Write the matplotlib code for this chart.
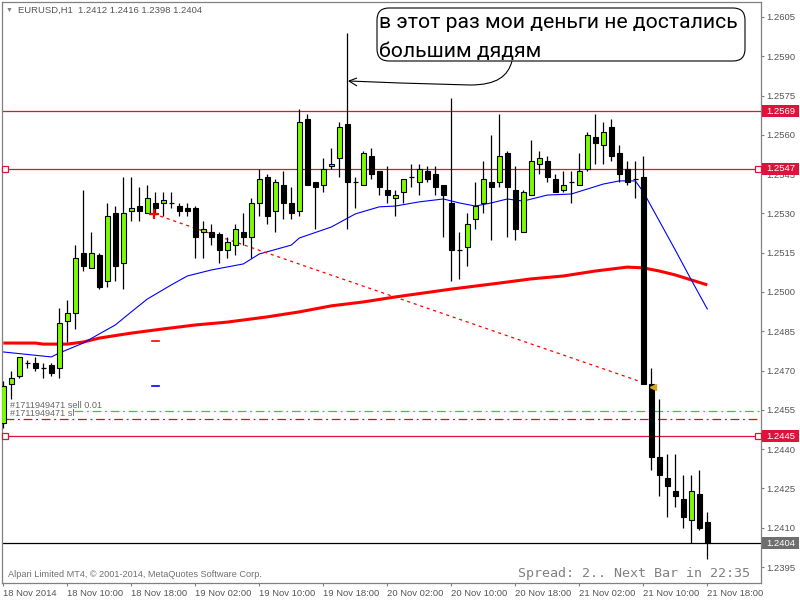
import matplotlib
matplotlib.use("Agg")
import matplotlib.pyplot as plt
from matplotlib.patches import Rectangle, FancyBboxPatch, PathPatch
from matplotlib.path import Path
from matplotlib.transforms import Affine2D, blended_transform_factory
import numpy as np

plt.rcParams['font.family'] = ['Liberation Sans', 'DejaVu Sans']

# EURUSD H1, one candle per hour from 18 Nov 02:00 to 21 Nov 18:00
opens = [1.2450, 1.2465, 1.2468, 1.2473, 1.2473, 1.2471, 1.2472, 1.2471, 1.2489, 1.2492,
         1.2515, 1.2509, 1.2514, 1.2504, 1.2530, 1.2511, 1.2531, 1.2533, 1.2530, 1.2534,
         1.2534, 1.2534, 1.2533, 1.2532, 1.2532, 1.2523, 1.2523, 1.2522, 1.2516, 1.2518,
         1.2523, 1.2521, 1.2534, 1.2544, 1.2531, 1.2541, 1.2534, 1.2531, 1.2566, 1.2542,
         1.2541, 1.2548, 1.2551, 1.2564, 1.2542, 1.2541, 1.2552, 1.2546, 1.2539, 1.2536,
         1.2538, 1.2544, 1.2542, 1.2546, 1.2545, 1.2541, 1.2534, 1.2516, 1.2517, 1.2528,
         1.2534, 1.2542, 1.2542, 1.2553, 1.2539, 1.2523, 1.2537, 1.2549, 1.2550, 1.2543,
         1.2539, 1.2542, 1.2541, 1.2547, 1.2559, 1.2556, 1.2563, 1.2553, 1.2547, 1.2543,
         1.2544, 1.2465, 1.2437, 1.2429, 1.2424, 1.2421, 1.2413, 1.2423, 1.2412]
highs = [1.2466, 1.2470, 1.2475, 1.2474, 1.2475, 1.2473, 1.2473, 1.2494, 1.2497, 1.2518,
         1.2539, 1.2523, 1.2515, 1.2534, 1.2533, 1.2544, 1.2544, 1.2540, 1.2541, 1.2538,
         1.2538, 1.2538, 1.2534, 1.2534, 1.2533, 1.2527, 1.2526, 1.2523, 1.2521, 1.2526,
         1.2530, 1.2536, 1.2547, 1.2545, 1.2543, 1.2546, 1.2540, 1.2570, 1.2568, 1.2542,
         1.2551, 1.2555, 1.2565, 1.2599, 1.2544, 1.2554, 1.2555, 1.2546, 1.2548, 1.2539,
         1.2543, 1.2549, 1.2549, 1.2548, 1.2548, 1.2541, 1.2574, 1.2523, 1.2530, 1.2542,
         1.2550, 1.2560, 1.2568, 1.2554, 1.2548, 1.2539, 1.2558, 1.2554, 1.2552, 1.2545,
         1.2546, 1.2546, 1.2553, 1.2561, 1.2568, 1.2565, 1.2566, 1.2556, 1.2550, 1.2550,
         1.2552, 1.2471, 1.2459, 1.2438, 1.2438, 1.2430, 1.2430, 1.2432, 1.2416]
lows = [1.2448, 1.2459, 1.2467, 1.2471, 1.2470, 1.2467, 1.2468, 1.2467, 1.2481, 1.2486,
        1.2508, 1.2509, 1.2501, 1.2502, 1.2504, 1.2501, 1.2527, 1.2527, 1.2530, 1.2530,
        1.2529, 1.2532, 1.2529, 1.2529, 1.2513, 1.2513, 1.2518, 1.2511, 1.2513, 1.2514,
        1.2518, 1.2513, 1.2529, 1.2526, 1.2523, 1.2528, 1.2528, 1.2529, 1.2541, 1.2524,
        1.2538, 1.2547, 1.2544, 1.2524, 1.2532, 1.2541, 1.2543, 1.2537, 1.2534, 1.2529,
        1.2534, 1.2540, 1.2537, 1.2542, 1.2537, 1.2521, 1.2504, 1.2505, 1.2510, 1.2524,
        1.2530, 1.2520, 1.2540, 1.2521, 1.2520, 1.2523, 1.2537, 1.2545, 1.2542, 1.2538,
        1.2538, 1.2534, 1.2541, 1.2546, 1.2549, 1.2549, 1.2550, 1.2542, 1.2541, 1.2536,
        1.2465, 1.2432, 1.2422, 1.2414, 1.2418, 1.2410, 1.2404, 1.2409, 1.2398]
closes = [1.2464, 1.2467, 1.2475, 1.2473, 1.2471, 1.2471, 1.2469, 1.2488, 1.2492, 1.2513,
          1.2510, 1.2515, 1.2502, 1.2529, 1.2510, 1.2530, 1.2532, 1.2531, 1.2536, 1.2532,
          1.2535, 1.2534, 1.2531, 1.2531, 1.2521, 1.2524, 1.2521, 1.2516, 1.2519, 1.2524,
          1.2521, 1.2534, 1.2543, 1.2529, 1.2542, 1.2534, 1.2530, 1.2565, 1.2541, 1.2540,
          1.2547, 1.2549, 1.2563, 1.2542, 1.2542, 1.2553, 1.2545, 1.2540, 1.2537, 1.2537,
          1.2543, 1.2544, 1.2547, 1.2543, 1.2540, 1.2537, 1.2516, 1.2516, 1.2526, 1.2533,
          1.2543, 1.2540, 1.2552, 1.2540, 1.2524, 1.2538, 1.2550, 1.2551, 1.2544, 1.2538,
          1.2541, 1.2542, 1.2546, 1.2560, 1.2557, 1.2561, 1.2552, 1.2545, 1.2542, 1.2543,
          1.2465, 1.2437, 1.2430, 1.2426, 1.2422, 1.2414, 1.2424, 1.2410, 1.2404]

# moving averages (bar index -> value)
fast_ma_bars = [0, 6, 7, 10, 12, 14, 16, 18, 21, 23, 26, 30, 32, 36, 37, 41, 44, 47, 49,
                52, 55, 57, 59, 61, 63, 65, 68, 71, 73, 75, 77, 79, 80, 82, 84, 86, 88]
fast_ma = [1.24771, 1.24752, 1.24767, 1.24805, 1.24840, 1.24874, 1.24924, 1.24973, 1.25027,
           1.25061, 1.25084, 1.25107, 1.25145, 1.25179, 1.25206, 1.25248, 1.25298, 1.25325,
           1.25328, 1.25344, 1.25355, 1.25340, 1.25328, 1.25340, 1.25355, 1.25347, 1.25370,
           1.25374, 1.25393, 1.25412, 1.25424, 1.25424, 1.25382, 1.25271, 1.25160, 1.25046,
           1.24935]
slow_ma_bars = [0, 4, 5, 8, 10, 12, 16, 20, 24, 28, 33, 37, 41, 45, 49, 56, 62, 66, 70,
                74, 78, 80, 82, 84, 86, 88]
slow_ma = [1.24805, 1.24805, 1.24801, 1.24801, 1.24809, 1.24824, 1.24843, 1.24859, 1.24874,
           1.24885, 1.24905, 1.24924, 1.24947, 1.24962, 1.24981, 1.25011, 1.25034, 1.25050,
           1.25061, 1.25080, 1.25095, 1.25092, 1.25080, 1.25065, 1.25046, 1.25027]

# closed trade (open cross -> close triangle) and its old sl/tp marks
trade_open = (18.8, 1.25298)
trade_end = (80.0, 1.24654)
trade_close_mark = (81.2, 1.24637)
old_sl, old_tp = 1.24813, 1.24641

# open order lines
order_price = 1.24546
order_sl = 1.24515

hlines_levels = [1.2569, 1.2547, 1.2445]
marked_levels = [1.2547, 1.2445]
bid = 1.2404

y_ticks = [1.2395, 1.2410, 1.2425, 1.2440, 1.2455, 1.2470, 1.2485, 1.2500, 1.2515,
           1.2530, 1.2545, 1.2560, 1.2575, 1.2590, 1.2605]
x_tick_bars = [0, 8, 16, 24, 32, 40, 48, 56, 64, 72, 80, 88]
x_labels = ["18 Nov 2014", "18 Nov 10:00", "18 Nov 18:00", "19 Nov 02:00", "19 Nov 10:00",
            "19 Nov 18:00", "20 Nov 02:00", "20 Nov 10:00", "20 Nov 18:00", "21 Nov 02:00",
            "21 Nov 10:00", "21 Nov 18:00"]

CRIMSON = '#DC143C'
GRAY = '#808080'
TXT = '#555555'

fig = plt.figure(figsize=(8, 6), dpi=100)
ax = fig.add_axes([2 / 800, 17 / 600, 759 / 800, 581 / 600])
ax.set_xlim(-0.1625, 94.7125)
ax.set_ylim(1.23889, 1.26107)

o = np.array(opens)
h = np.array(highs)
l = np.array(lows)
c = np.array(closes)
x = np.arange(len(o))

# indicators
ax.plot(slow_ma_bars, slow_ma, color='#FF0000', lw=2.2, zorder=2, solid_capstyle='butt')
ax.plot(fast_ma_bars, fast_ma, color='#0000FF', lw=0.8, zorder=2)

# horizontal lines
for lv in hlines_levels:
    ax.axhline(lv, color=CRIMSON, lw=0.9, zorder=1.5)
ax.axhline(bid, color='black', lw=0.9, zorder=1.5)
ax.plot([8.8, 94.7], [order_price] * 2, color='#32CD32', lw=0.9,
        ls=(0, (7, 3, 1.5, 3)), zorder=1.5)
ax.plot([0.2, 94.7], [order_sl] * 2, color='#FF0000', lw=0.9,
        ls=(0, (7, 3, 1.5, 3)), zorder=1.5)

# trade history
ax.plot([trade_open[0], trade_end[0]], [trade_open[1], trade_end[1]], color='#FF0000',
        lw=0.9, ls=(0, (2.5, 3)), zorder=2.5)
ax.plot(*trade_open, marker='+', color='#FF0000', ms=7, mew=1.6, zorder=6)
ax.plot(*trade_close_mark, marker='<', color='#DAA520', ms=5, zorder=6)
ax.plot([18.6, 19.4], [old_sl] * 2, color='#FF0000', lw=1.2)
ax.plot([18.6, 19.4], [old_tp] * 2, color='#0000FF', lw=1.2)

# candles
bw = 0.56
ax.vlines(x, l, h, color='black', lw=0.9, zorder=3)
up = c > o
dn = c < o
eq = c == o
ax.bar(x[up], (c - o)[up], bottom=o[up], width=bw, color='#7CFC00',
       edgecolor='black', linewidth=0.8, zorder=4)
ax.bar(x[dn], (o - c)[dn], bottom=c[dn], width=bw, color='black',
       edgecolor='black', linewidth=0.8, zorder=4)
ax.hlines(c[eq], x[eq] - bw / 2 - 0.05, x[eq] + bw / 2 + 0.05, color='black', lw=0.9,
          zorder=4)

# axes styling
for s in ax.spines.values():
    s.set_color(GRAY)
    s.set_linewidth(0.9)
ax.yaxis.tick_right()
ax.set_yticks(y_ticks)
ax.set_yticklabels([f"{v:.4f}" for v in y_ticks])
ax.set_xticks(x_tick_bars)
ax.set_xticklabels(x_labels)
ax.tick_params(axis='both', colors=GRAY, labelcolor=TXT, labelsize=6.8, length=2.5,
               width=0.8, pad=1.5)
for lab in ax.get_xticklabels():
    lab.set_horizontalalignment('left')

# price tags on the right scale
blend = blended_transform_factory(ax.transAxes, ax.transData)
tag_h = 12 * (1.26107 - 1.23889) / 581
tags = [(lv, CRIMSON) for lv in hlines_levels] + [(bid, '#6E6E6E')]
for lv, col in tags:
    ax.add_patch(Rectangle((1.0015, lv - tag_h / 2), 0.048, tag_h, transform=blend,
                           facecolor=col, edgecolor='none', clip_on=False, zorder=5))
    ax.text(1.0255, lv, f"{lv:.4f}", transform=blend, color='white', fontsize=6.8,
            ha='center', va='center', clip_on=False, zorder=6)
for lv in marked_levels:
    for xa in (0.0045, 0.9955):
        ax.plot([xa], [lv], transform=blend, marker='s', ms=4, mfc='white', mec=CRIMSON,
                mew=0.9, clip_on=False, zorder=6)

# chart texts
fig.text(9 / 800, 1 - 10.5 / 600, "\u25BC", color=GRAY, fontsize=5, ha='center', va='center')
fig.text(18 / 800, 1 - 10.5 / 600, "EURUSD,H1  1.2412 1.2416 1.2398 1.2404", color=TXT,
         fontsize=6.8, va='center')
fig.text(10 / 800, 1 - 405.5 / 600, "#1711949471 sell 0.01", color='#666666', fontsize=6.6,
         va='center')
fig.text(10 / 800, 1 - 413.5 / 600, "#1711949471 sl", color='#666666', fontsize=6.6,
         va='center')
fig.text(8 / 800, 1 - 574.5 / 600, "Alpari Limited MT4, \u00a9 2001-2014, MetaQuotes Software Corp.",
         color='#707070', fontsize=6.6, va='center')
fig.text(750 / 800, 1 - 573 / 600, "Spread: 2.. Next Bar in 22:35", color='#808080',
         fontsize=9.6, family='DejaVu Sans Mono', ha='right', va='center')

# hand-drawn callout
pix = Affine2D().scale(1, -1).translate(0, 600)
box = FancyBboxPatch((377, 8), 368, 53, boxstyle="round,pad=0,rounding_size=12",
                     transform=pix, facecolor='white', edgecolor='black', lw=0.8, zorder=10)
fig.add_artist(box)
tail = Path([(512, 61), (508, 76), (497, 85), (470, 85), (400, 83), (349, 81)],
            [Path.MOVETO, Path.CURVE4, Path.CURVE4, Path.CURVE4, Path.LINETO, Path.LINETO])
fig.add_artist(PathPatch(tail, transform=pix, facecolor='none', edgecolor='black', lw=0.8,
                         zorder=10))
head = Path([(357, 78), (349, 81), (357, 86)], [Path.MOVETO, Path.LINETO, Path.LINETO])
fig.add_artist(PathPatch(head, transform=pix, facecolor='none', edgecolor='black', lw=0.8,
                         zorder=10))
fig.text(379 / 800, 1 - 28.5 / 600, "в этот раз мои деньги не достались", family='Roboto',
         fontsize=15.2, color='black', va='baseline', zorder=11)
fig.text(379 / 800, 1 - 56.5 / 600, "большим дядям", family='Roboto',
         fontsize=15.2, color='black', va='baseline', zorder=11)

fig.savefig("out.png", dpi=100)
